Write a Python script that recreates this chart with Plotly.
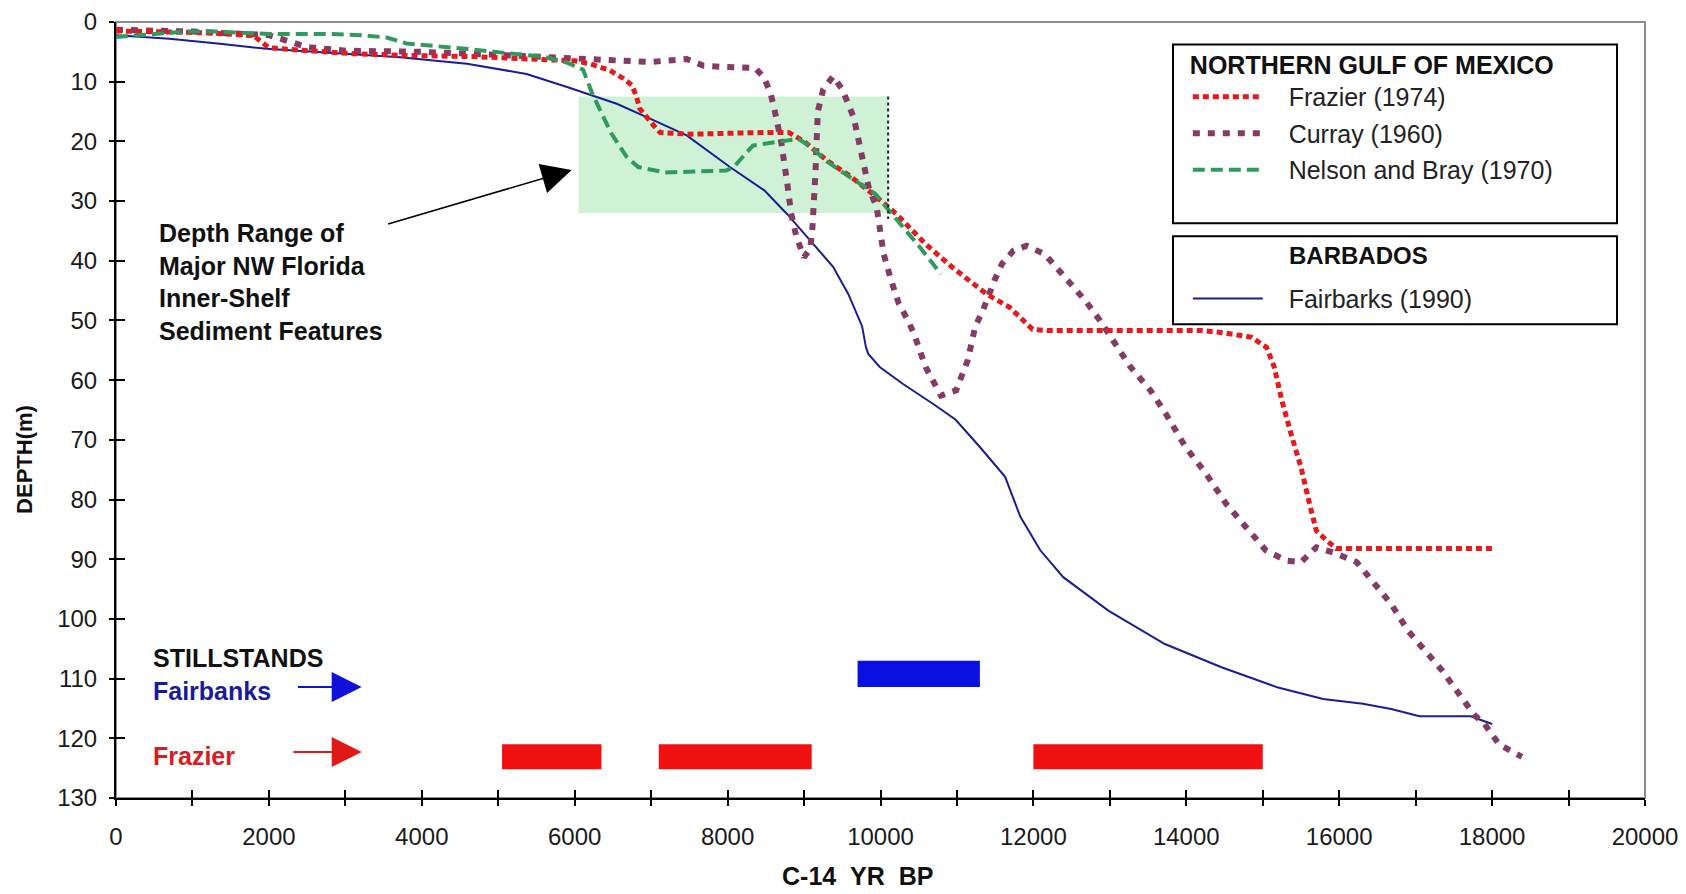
import plotly.graph_objects as go

# ---------------- data ----------------
# Barbados, Fairbanks (1990)
fb_years = [0, 700, 1360, 1970, 2840, 3715, 4590, 5020, 5370, 5900, 6240, 6550, 6985, 7465,
            8030, 8480, 8780, 9080, 9380, 9580, 9760, 9810, 9840, 9990, 10290, 10690, 10980,
            11300, 11630, 11830, 12090, 12390, 12980, 13720, 14460, 15200, 15790, 16310,
            16680, 17050, 17720, 18000]
fb_depth = [2.2, 2.8, 3.65, 4.5, 5.2, 5.9, 7.0, 8.0, 8.7, 10.9, 12.3, 13.7, 16.2, 19.0,
            24.3, 28.2, 32.2, 36.6, 41.0, 45.6, 51.0, 54.5, 55.6, 57.8, 60.6, 64.0, 66.6,
            71.2, 76.2, 82.9, 88.5, 93.0, 98.6, 104.2, 108.1, 111.5, 113.4, 114.2,
            115.1, 116.3, 116.3, 117.6]

# Northern Gulf of Mexico, Frazier (1974)
fr_years = [0, 600, 1200, 1800, 2000, 2500, 3100, 3800, 4700, 5400, 6000, 6200, 6460, 6640,
            6750, 6810, 6850, 7030, 7115, 7500, 8000, 8500, 8800, 9000, 9300, 9600, 9900,
            10210, 10590, 10940, 11390, 11690, 11990, 12200, 14200, 14450, 14850, 15050,
            15150, 15250, 15370, 15500, 15600, 15700, 15830, 15960, 18000]
fr_depth = [1.5, 1.7, 1.8, 2.3, 4.3, 4.8, 5.3, 5.6, 5.8, 6.2, 6.5, 7.0, 8.1, 9.5,
            10.6, 12.6, 14.5, 17.3, 18.5, 18.8, 18.6, 18.5, 18.5, 20.0, 23.2, 25.8, 28.8,
            32.2, 37.2, 41.1, 45.6, 47.8, 51.5, 51.7, 51.7, 52.0, 52.8, 54.5,
            57.8, 63.4, 69.0, 74.6, 80.1, 85.2, 86.8, 88.2, 88.2]

# Northern Gulf of Mexico, Curray (1960)
cu_years = [0, 1000, 2000, 2500, 3000, 4000, 5000, 5500, 6000, 6550, 6985, 7465, 7680, 7900,
            8140, 8360, 8470, 8560, 8620, 8700, 8780, 8830, 8900, 9000, 9080, 9110, 9150,
            9180, 9250, 9380, 9500, 9560, 9650, 9750, 9850, 9950, 10000, 10040, 10140,
            10240, 10360, 10440, 10590, 10790, 10990, 11060, 11140, 11240, 11340, 11490,
            11590, 11740, 11910, 12150, 12420, 12680, 12870, 13080, 13270, 13530, 13730,
            13990, 14260, 14520, 14780, 15040, 15300, 15500, 15700, 15950, 16230, 16460,
            16680, 16900, 17130, 17350, 17570, 17760, 17900, 18090, 18390]
cu_depth = [1.3, 1.6, 2.2, 4.2, 4.8, 5.0, 5.5, 5.8, 6.0, 6.2, 6.7, 6.2, 7.3, 7.5,
            7.7, 7.7, 9.2, 11.8, 15.1, 20.0, 27.0, 32.0, 36.0, 39.4, 38.0, 34.4, 25.0,
            15.0, 11.3, 9.1, 11.3, 13.0, 16.0, 22.0, 28.0, 31.0, 35.0, 38.8, 43.3,
            47.2, 50.0, 52.3, 57.8, 62.6, 61.7, 59.5, 56.7, 51.0, 48.3, 43.3,
            40.5, 38.3, 37.5, 38.9, 42.8, 46.7, 50.0, 54.0, 57.8, 61.7, 65.6,
            71.2, 75.7, 80.7, 84.6, 88.5, 90.2, 90.5, 88.0, 89.0, 90.5, 94.0,
            97.5, 102.0, 105.3, 108.7, 112.6, 116.0, 117.6, 121.0, 123.1]

# Northern Gulf of Mexico, Nelson and Bray (1970)
nb_years = [0, 500, 930, 1300, 1710, 2000, 2580, 2840, 3200, 3540, 3800, 4200, 4670, 5100,
            5590, 5900, 6110, 6230, 6330, 6480, 6680, 6830, 7180, 7500, 7980, 8080, 8330,
            8700, 8930, 9100, 9280, 9600, 9935, 10185, 10500, 10790]
nb_depth = [2.5, 2.0, 1.6, 1.6, 1.8, 2.0, 2.0, 2.0, 2.2, 2.6, 3.6, 4.0, 4.6, 5.2,
            5.8, 6.8, 8.0, 12.0, 14.8, 18.7, 22.6, 24.3, 25.2, 25.1, 24.9, 24.3, 20.7,
            20.0, 19.6, 21.0, 23.2, 26.0, 28.8, 32.7, 37.5, 42.2]

# Stillstands
fb_still_start = [9700]
fb_still_end = [11300]
fb_still_depth = [109.2]
fr_still_start = [5050, 7100, 12000]
fr_still_end = [6350, 9100, 15000]
fr_still_depth = [123.1, 123.1, 123.1]

# Depth range of major NW Florida inner-shelf sediment features
feature_years = [6050, 10100]
feature_depths = [12.5, 32]

# Axis ticks
x_tickvals = list(range(0, 20001, 1000))
x_ticktext = [str(v) if v % 2000 == 0 else "" for v in x_tickvals]
y_tickvals = list(range(0, 131, 10))
y_ticktext = [str(v) for v in y_tickvals]

# ---------------- figure ----------------
FONT = "Liberation Sans, Arial, sans-serif"
C_FB = "#1c1c96"
C_FR = "#e41a1c"
C_CU = "#843c66"
C_NB = "#2f9a5c"
PAD = "&nbsp;&nbsp;&nbsp;"

fig = go.Figure()

fig.add_trace(go.Bar(
    orientation="h", y=fb_still_depth,
    x=[e - s for s, e in zip(fb_still_start, fb_still_end)], base=fb_still_start,
    width=4.4, marker=dict(color="#0a10e0", line=dict(width=0)),
    showlegend=False, hoverinfo="skip"))
fig.add_trace(go.Bar(
    orientation="h", y=fr_still_depth,
    x=[e - s for s, e in zip(fr_still_start, fr_still_end)], base=fr_still_start,
    width=4.2, marker=dict(color="#f01010", line=dict(width=0)),
    showlegend=False, hoverinfo="skip"))

fig.add_trace(go.Scatter(
    x=fb_years, y=fb_depth, mode="lines", name=PAD + "Fairbarks (1990)",
    line=dict(color=C_FB, width=2), legend="legend2"))
fig.add_trace(go.Scatter(
    x=cu_years, y=cu_depth, mode="lines", name=PAD + "Curray (1960)",
    line=dict(color=C_CU, width=6, dash="7px,8px"), legendrank=2,
    legendgroup="cu"))
fig.add_trace(go.Scatter(
    x=fr_years, y=fr_depth, mode="lines", name=PAD + "Frazier (1974)",
    line=dict(color=C_FR, width=5, dash="6px,4px"), legendrank=1,
    legendgroup="fr"))
fig.add_trace(go.Scatter(
    x=nb_years, y=nb_depth, mode="lines", name=PAD + "Nelson and Bray (1970)",
    line=dict(color=C_NB, width=4, dash="12px,6px"), legendrank=3,
    legendgroup="nb"))

# dummy trace for the overlay (inside-tick) axes
fig.add_trace(go.Scatter(x=[None], y=[None], xaxis="x2", yaxis="y2",
                         showlegend=False, hoverinfo="skip"))

tickfont = dict(family=FONT, size=24, color="#1a1a1a")

# the page body adds an 8 px offset; margins compensate so the plot sits as in the reference
fig.update_layout(
    width=1678, height=886,
    margin=dict(l=108, r=41, t=14, b=96, autoexpand=False),
    paper_bgcolor="white", plot_bgcolor="white",
    barmode="overlay",
    font=dict(family=FONT, color="#111"),
    xaxis=dict(range=[0, 20000], tickvals=x_tickvals, ticktext=x_ticktext,
               ticks="outside", ticklen=6, tickwidth=2, tickcolor="black",
               showline=True, linecolor="black", linewidth=2,
               showgrid=False, zeroline=False, tickfont=tickfont,
               ticklabelstandoff=10, automargin=False, ticklabeloverflow="allow"),
    yaxis=dict(range=[130, 0], tickvals=y_tickvals, ticktext=y_ticktext,
               ticks="outside", ticklen=5, tickwidth=2, tickcolor="black",
               showline=True, linecolor="black", linewidth=2,
               showgrid=False, zeroline=False, tickfont=tickfont,
               ticklabelstandoff=7, automargin=False, ticklabeloverflow="allow"),
    xaxis2=dict(range=[0, 20000], overlaying="x", anchor="y2", side="bottom",
                tickvals=x_tickvals, ticks="inside", ticklen=8, tickwidth=2,
                tickcolor="black", showticklabels=False, showline=False,
                showgrid=False, zeroline=False, automargin=False),
    yaxis2=dict(range=[130, 0], overlaying="y", anchor="x2", side="left",
                tickvals=y_tickvals, ticks="inside", ticklen=9, tickwidth=2,
                tickcolor="black", showticklabels=False, showline=False,
                showgrid=False, zeroline=False, automargin=False),
    legend=dict(x=0.701, y=0.975, xanchor="left", yanchor="top",
                bgcolor="rgba(0,0,0,0)", borderwidth=0,
                font=dict(family=FONT, size=25, color="#222"),
                title=dict(text="<b>NORTHERN GULF OF MEXICO</b>",
                           font=dict(family=FONT, size=25, color="#111")),
                itemwidth=70, tracegroupgap=1, traceorder="grouped"),
    legend2=dict(x=0.701, y=0.673, xanchor="left", yanchor="top",
                 bgcolor="rgba(0,0,0,0)", borderwidth=0,
                 font=dict(family=FONT, size=25, color="#222"),
                 itemwidth=70),
)

shapes = [
    # plot frame (top/right in grey)
    dict(type="rect", xref="paper", yref="paper", x0=0, x1=1, y0=0, y1=1,
         line=dict(color="#8c8c8c", width=2), layer="below"),
    # feature depth range box
    dict(type="rect", xref="x", yref="y", x0=feature_years[0], x1=feature_years[1],
         y0=feature_depths[0], y1=feature_depths[1],
         fillcolor="#cff2d6", line=dict(width=0), layer="below"),
    dict(type="line", xref="x", yref="y", x0=feature_years[1], x1=feature_years[1],
         y0=feature_depths[0], y1=feature_depths[1] + 1,
         line=dict(color="#222", width=2, dash="dot")),
    # legend boxes
    dict(type="rect", xref="paper", yref="paper", x0=0.6913, x1=0.9817,
         y0=0.7405, y1=0.971, fillcolor="white",
         line=dict(color="black", width=2), layer="above"),
    dict(type="rect", xref="paper", yref="paper", x0=0.6913, x1=0.9817,
         y0=0.6104, y1=0.7238, fillcolor="white",
         line=dict(color="black", width=2), layer="above"),
]
fig.update_layout(shapes=shapes)

annotations = [
    dict(x=536, y=43.55, xref="x", yref="y", xanchor="left", yanchor="middle",
         align="left", showarrow=False, font=dict(family=FONT, size=25, color="#111"),
         text="<b>Depth Range of<br>Major NW Florida<br>Inner-Shelf<br>Sediment Features</b>"),
    dict(x=5960, y=24.8, ax=3540, ay=33.9, xref="x", yref="y", axref="x", ayref="y",
         text="", showarrow=True, arrowhead=2, arrowsize=4, arrowwidth=1.5,
         arrowcolor="black"),
    dict(x=460, y=106.6, xref="x", yref="y", xanchor="left", yanchor="middle",
         showarrow=False, font=dict(family=FONT, size=25, color="#111"),
         text="<b>STILLSTANDS</b>"),
    dict(x=460, y=112.1, xref="x", yref="y", xanchor="left", yanchor="middle",
         showarrow=False, font=dict(family=FONT, size=25, color="#1a1aa0"),
         text="<b>Fairbanks</b>"),
    dict(x=460, y=122.9, xref="x", yref="y", xanchor="left", yanchor="middle",
         showarrow=False, font=dict(family=FONT, size=25, color="#d42020"),
         text="<b>Frazier</b>"),
    dict(x=3214, y=111.4, ax=2360, ay=111.4, xref="x", yref="y", axref="x", ayref="y",
         text="", showarrow=True, arrowhead=2, arrowsize=3, arrowwidth=2,
         arrowcolor="#1010d8"),
    dict(x=3214, y=122.3, ax=2300, ay=122.3, xref="x", yref="y", axref="x", ayref="y",
         text="", showarrow=True, arrowhead=2, arrowsize=3, arrowwidth=2,
         arrowcolor="#e01818"),
    # legend 2 heading
    dict(x=0.766, y=0.6993, xref="paper", yref="paper", xanchor="left",
         yanchor="middle", showarrow=False,
         font=dict(family=FONT, size=24, color="#111"), text="<b>BARBADOS</b>"),
    # axis titles
    dict(x=0.485, y=-0.1, xref="paper", yref="paper", xanchor="center",
         yanchor="middle", showarrow=False,
         font=dict(family=FONT, size=25, color="#111"),
         text="<b>C-14&nbsp;&nbsp;YR&nbsp;&nbsp;BP</b>"),
    dict(x=-0.06, y=0.436, xref="paper", yref="paper", xanchor="center",
         yanchor="middle", showarrow=False, textangle=-90,
         font=dict(family=FONT, size=22, color="#111"),
         text="<b>DEPTH(m)</b>"),
]
fig.update_layout(annotations=annotations)

fig.write_html("out.html")
